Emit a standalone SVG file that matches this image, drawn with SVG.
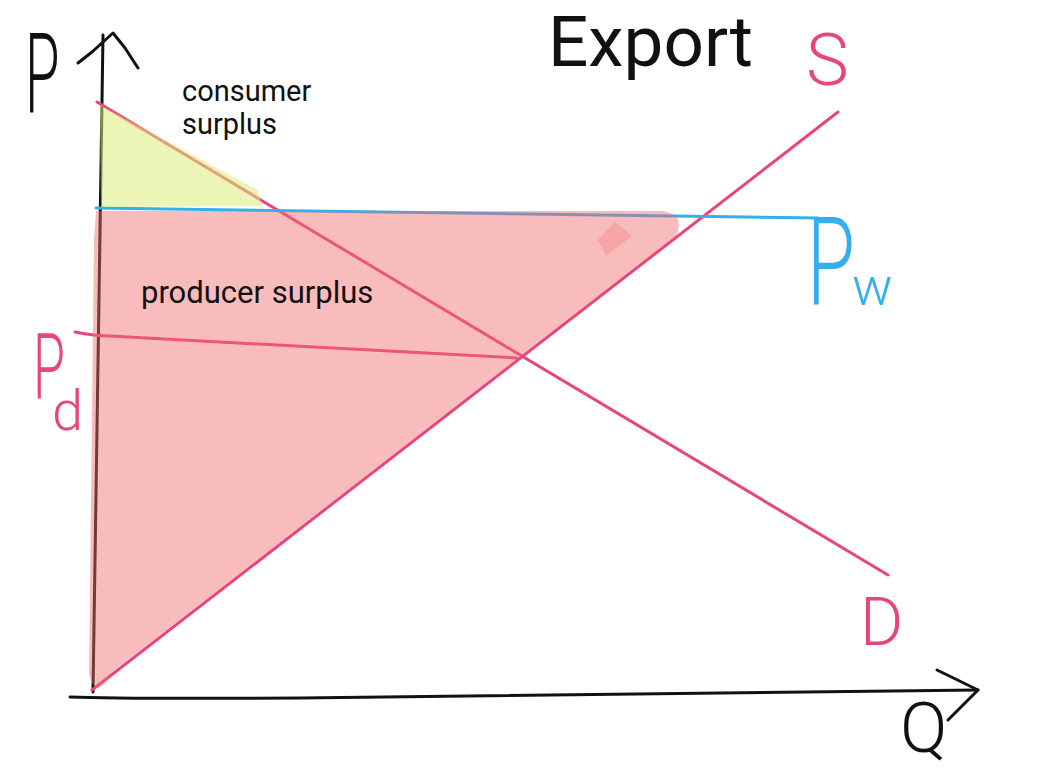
<svg xmlns="http://www.w3.org/2000/svg" width="1044" height="776" viewBox="0 0 1044 776">
<style>
.ax{fill:none;stroke:#111;stroke-width:3;stroke-linecap:round;stroke-linejoin:round}
.pk{fill:none;stroke:#e8457a;stroke-width:3;stroke-linecap:round}
.bl{fill:none;stroke:#35aeec;stroke-width:3;stroke-linecap:round}
.lab{font-family:Roboto,"Liberation Sans",sans-serif;fill:#111}
.hp{font-family:Roboto,"Liberation Sans",sans-serif;font-weight:300;fill:#e8457a}
.hb{font-family:Roboto,"Liberation Sans",sans-serif;font-weight:300;fill:#35aeec}
.hk{font-family:Roboto,"Liberation Sans",sans-serif;font-weight:300;fill:#111}
</style>
<rect width="1044" height="776" fill="#fff"/>
<g id="axes">
<path class="ax" d="M103,35 L93,692"/>
<path class="ax" d="M78,63 L92,52 L113,33 L125,48 L138,68"/>
<path class="ax" d="M70,697 Q120,699 300,698 Q700,694 978,690"/>
<path class="ax" d="M937,670 L978,690 L948,720"/>
</g>
<g id="connectors">
<path id="demand" class="pk" d="M97,102 L888,575"/>
<path id="supply" class="pk" d="M92,690 L838,112"/>
<path id="world-price" class="bl" d="M96,208 L818,218"/>
<path id="domestic-price" class="pk" d="M75,332 Q95,336 110,336 L517,358"/>
</g>
<g id="consumer-surplus">
<path d="M100,105 L258,190 L262,206 L101,207 Z" fill="#dceb7a" fill-opacity="0.55"/>
<text class="lab" x="182" y="101" font-size="29">consumer</text>
<text class="lab" x="182" y="134" font-size="29">surplus</text>
</g>
<g id="producer-surplus">
<path d="M96,211 L662,211 Q686,214 676,236 L112,672 Q96,702 89,674 L94,240 Z" fill="#f26b6b" fill-opacity="0.45"/>
<path d="M598,240 L615,222 L632,236 L606,256 Z" fill="#f07070" fill-opacity="0.3"/>
<text class="lab" x="141" y="303" font-size="31">producer surplus</text>
</g>
<g id="title">
<text class="lab" x="548" y="66" font-size="71">Export</text>
</g>
<g id="label-P">
<text class="hk" transform="translate(25,112) scale(0.5,1)" font-size="112">P</text>
</g>
<g id="label-Q">
<text class="hk" x="900" y="752" font-size="70">Q</text>
</g>
<g id="label-S">
<text class="hp" x="806" y="85" font-size="72">S</text>
</g>
<g id="label-D">
<text class="hp" x="860" y="645" font-size="66">D</text>
</g>
<g id="label-Pw">
<text class="hb" x="807" y="305"><tspan font-size="122" textLength="48" lengthAdjust="spacingAndGlyphs">P</tspan><tspan x="852" font-size="54">w</tspan></text>
</g>
<g id="label-Pd">
<text class="hp" x="33" y="398"><tspan font-size="90" textLength="32" lengthAdjust="spacingAndGlyphs">P</tspan><tspan x="52" y="430" font-size="56">d</tspan></text>
</g>
</svg>
